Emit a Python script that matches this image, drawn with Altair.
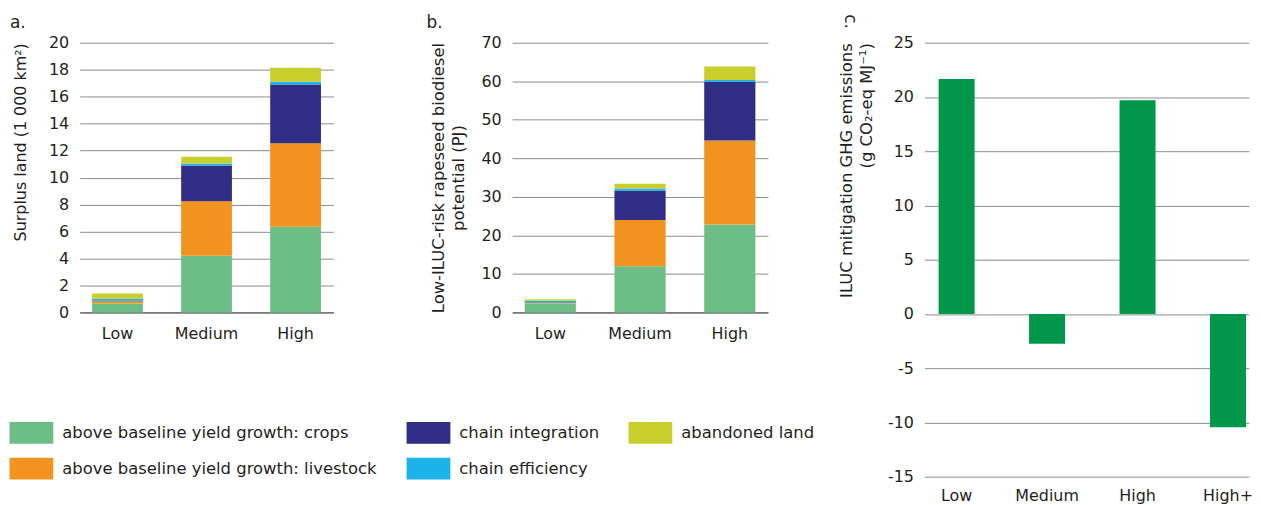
import altair as alt
import pandas as pd

FONT = "DejaVu Sans"
TEXT = "#231f20"
GRID = "#8c8c8c"

# ---------------- data ----------------
scenarios = ["Low", "Medium", "High"]
components = [
    "above baseline yield growth: crops",
    "above baseline yield growth: livestock",
    "chain integration",
    "chain efficiency",
    "abandoned land",
]
component_colors = ["#6dbd86", "#f3931f", "#2f2d84", "#1cb4e8", "#c8cf2c"]

# panel a: surplus land (1 000 km2)
land_crops = [0.67, 4.20, 6.35]
land_livestock = [0.15, 4.05, 6.20]
land_integration = [0.05, 2.65, 4.35]
land_efficiency = [0.15, 0.15, 0.20]
land_abandoned = [0.38, 0.50, 1.05]

# panel b: low-ILUC-risk rapeseed biodiesel potential (PJ)
bio_crops = [2.30, 12.0, 22.8]
bio_livestock = [0.15, 12.0, 21.85]
bio_integration = [0.10, 7.60, 15.25]
bio_efficiency = [0.45, 0.55, 0.45]
bio_abandoned = [0.40, 1.25, 3.45]

# panel c: ILUC mitigation GHG emissions
ghg_scenarios = ["Low", "Medium", "High", "High+"]
ghg_values = [21.65, -2.75, 19.7, -10.45]
ghg_color = "#00974a"

land_ticks = list(range(0, 21, 2))
bio_ticks = list(range(0, 71, 10))
ghg_ticks = list(range(-15, 26, 5))


def long_table(series):
    rows = []
    for k, (name, vals) in enumerate(zip(components, series)):
        for s, v in zip(scenarios, vals):
            rows.append({"scenario": s, "component": name, "stack": k, "value": v})
    return pd.DataFrame(rows)


land_df = long_table([land_crops, land_livestock, land_integration, land_efficiency, land_abandoned])
bio_df = long_table([bio_crops, bio_livestock, bio_integration, bio_efficiency, bio_abandoned])
ghg_df = pd.DataFrame({"scenario": ghg_scenarios, "value": ghg_values})

legend = alt.Legend(
    title=None, orient="none", legendX=-70.5, legendY=381, columns=3,
    symbolType="M-1,-1H3V1H-1Z", symbolSize=484, symbolStrokeWidth=0, symbolOpacity=1,
    labelFont=FONT, labelFontSize=16.5, labelColor=TEXT, labelOffset=31, labelLimit=0,
    rowPadding=14, columnPadding=29, padding=0,
)
color_enc = alt.Color(
    "component:N",
    scale=alt.Scale(domain=components, range=component_colors),
    legend=legend,
)


def panel_title(text, **kw):
    return alt.TitleParams(text, anchor="start", frame="group", fontSize=17, font=FONT,
                           color=TEXT, fontWeight="normal", baseline="alphabetic", **kw)


def x_axis(pad, domain):
    kw = dict(labelAngle=0, ticks=False, tickSize=0, labelPadding=pad, labelFontSize=16,
              labelColor=TEXT, labelFont=FONT, grid=False, domain=domain)
    if domain:
        kw.update(domainColor="#4a4a4a", domainWidth=1)
    return alt.Axis(**kw)


def y_axis(ticks, **kw):
    return alt.Axis(values=ticks, ticks=False, tickSize=0, domain=False, labelPadding=11,
                    labelFontSize=16, labelColor=TEXT, labelFont=FONT, gridColor=GRID,
                    gridWidth=1, titleColor=TEXT, titleFont=FONT, titleFontWeight="normal",
                    **kw)


def stacked(df, ticks, ymax, ytitle, width, title, axis_kw):
    return alt.Chart(df).mark_bar().encode(
        x=alt.X("scenario:N", sort=scenarios, title=None,
                scale=alt.Scale(paddingInner=0.43, paddingOuter=0.14),
                axis=x_axis(13, True)),
        y=alt.Y("value:Q", stack="zero", title=ytitle,
                scale=alt.Scale(domain=[0, ymax], nice=False),
                axis=y_axis(ticks, **axis_kw)),
        color=color_enc,
        order=alt.Order("stack:Q", sort="ascending"),
    ).properties(width=width, height=271, title=title)


a = stacked(land_df, land_ticks, 20, "Surplus land (1 000 km²)", 255,
            panel_title("a.", dx=-70, offset=-10.3),
            dict(titleFontSize=16, titleX=-51, titleY=0, titleAlign="right"))

b = stacked(bio_df, bio_ticks, 70, ["Low-ILUC-risk rapeseed biodiesel", "potential (PJ)"], 257,
            panel_title("b.", dx=-86, offset=-10.3),
            dict(titleFontSize=16.5, titleX=-66.5, titleLineHeight=21))

c = alt.Chart(ghg_df).mark_bar(color=ghg_color).encode(
    x=alt.X("scenario:N", sort=ghg_scenarios, title=None,
            scale=alt.Scale(paddingInner=0.602, paddingOuter=0.094, align=0.836),
            axis=x_axis(11, False)),
    y=alt.Y("value:Q", title=["ILUC mitigation GHG emissions", "(g CO₂-eq MJ⁻¹)"],
            scale=alt.Scale(domain=[-15, 25], nice=False),
            axis=y_axis(ghg_ticks, labelExpr="'' + datum.value", titleFontSize=16.5,
                        titleX=-70, titleY=0, titleAlign="right", titleLineHeight=20)),
).properties(width=326, height=436,
             title=panel_title("c.", angle=90, dy=80, offset=5.9))

chart = alt.hconcat(
    alt.hconcat(a, b, spacing=93.6),
    c,
    spacing=69.8,
).properties(
    padding={"left": 1, "top": 4.7, "right": 0, "bottom": 0}
).configure(font=FONT).configure_view(stroke=None)

chart.save("out.html", embed_options={"renderer": "svg", "actions": False})
